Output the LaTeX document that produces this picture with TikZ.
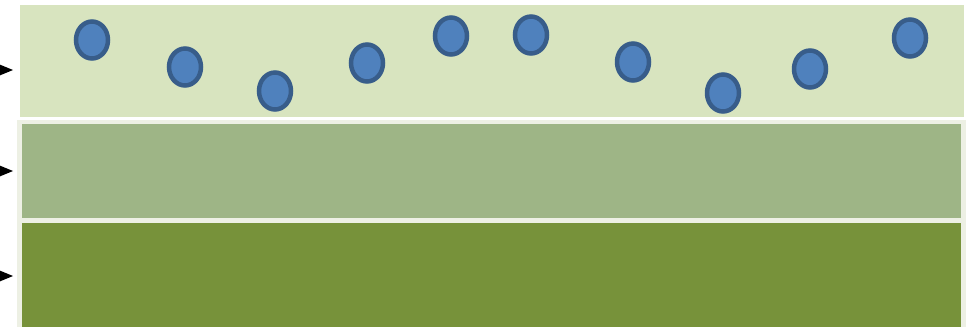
\documentclass[tikz,border=0pt]{standalone}
\definecolor{topband}{HTML}{D8E4BF}
\definecolor{midband}{HTML}{9EB586}
\definecolor{lowband}{HTML}{77923A}
\definecolor{framec}{HTML}{EDF0E4}
\definecolor{ballfill}{HTML}{4F81BD}
\definecolor{balledge}{HTML}{385D8A}
\tikzset{
  ball/.style={ellipse, draw=balledge, fill=ballfill, line width=4.5pt, minimum width=32pt, minimum height=37pt, inner sep=0pt},
  pointer/.style={fill=black, draw=none}
}
\usetikzlibrary{shapes.geometric}
\begin{document}
\begin{tikzpicture}[x=1pt,y=-1pt]
\useasboundingbox (0,0) rectangle (971,327);
\fill[white] (0,0) rectangle (971,327);
% bands
\fill[topband] (20,5) rectangle (964,117);
\fill[framec] (17,120) rectangle (966,327);
\fill[midband] (22,124) rectangle (961,218);
\fill[lowband] (22,223) rectangle (961,327);
% balls
\foreach \n/\x/\y in {1/92/40, 2/185/67, 3/275/91, 4/367/63, 5/451/36, 6/531/35, 7/633/62, 8/723/93, 9/810/69, 10/910/38}
  \node[ball] (b\n) at (\x,\y) {};
% pointers
\foreach \n/\y in {1/70, 2/171, 3/276}
  \fill[pointer] (-4,\y-7) -- (13,\y) -- (-4,\y+7) -- cycle;
\end{tikzpicture}
\end{document}
